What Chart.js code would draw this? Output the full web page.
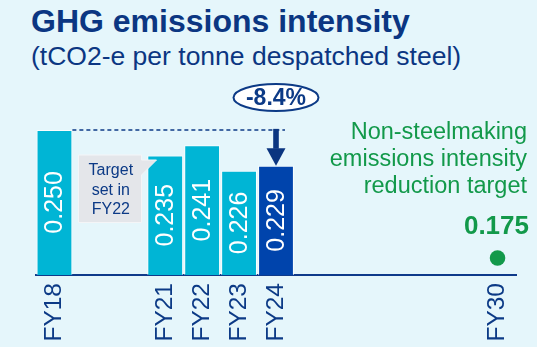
<!DOCTYPE html>
<html>
<head>
<meta charset="utf-8">
<title>GHG emissions intensity</title>
<script src="https://cdn.jsdelivr.net/npm/chart.js"></script>
<style>
  html, body { margin: 0; padding: 0; background: #fff; }
  #wrap { position: relative; width: 554px; height: 347px; overflow: hidden; }
  #bg { position: absolute; left: 0; top: 0; width: 537px; height: 347px; background: #e5f6fb; }
  .t { position: absolute; left: 31px; white-space: nowrap; color: #0b3682;
       font-family: "Liberation Sans", Arial, sans-serif; line-height: 1; }
  #title { top: 5px; font-size: 32px; font-weight: bold; }
  #sub { top: 43px; font-size: 26.5px; }
  #chart { position: absolute; left: 0; top: 0; }
</style>
</head>
<body>
<div id="wrap">
  <div id="bg"></div>
  <div class="t" id="title">GHG emissions intensity</div>
  <div class="t" id="sub">(tCO2-e per tonne despatched steel)</div>
  <canvas id="chart" width="554" height="347"></canvas>
</div>
<script>
// data
const years = ['FY18','FY19','FY20','FY21','FY22','FY23','FY24','FY25','FY26','FY27','FY28','FY29','FY30'];
const tickLabels = ['FY18','','','FY21','FY22','FY23','FY24','','','','','','FY30'];
const intensity = [0.250, null, null, 0.235, 0.241, 0.226, 0.229, null, null, null, null, null, null];
const target = [null, null, null, null, null, null, null, null, null, null, null, null, 0.175];
const changeLabel = '-8.4%';
const noteLines = ['Target', 'set in', 'FY22'];
const targetLines = ['Non-steelmaking', 'emissions intensity', 'reduction target'];
const targetValue = '0.175';

const NAVY = '#0c3a86';
const CYAN = '#00b5d5';
const DARK = '#0044ac';
const GREEN = '#12994a';
const FONT = '"Liberation Sans", Arial, sans-serif';

const annotations = {
  id: 'annotations',
  afterDatasetsDraw(chart) {
    const ctx = chart.ctx;
    const x = chart.scales.x, y = chart.scales.y;
    const bottom = chart.chartArea.bottom;
    const bars = chart.getDatasetMeta(0).data;

    // values inside bars
    ctx.save();
    ctx.fillStyle = '#fff';
    ctx.font = '25px ' + FONT;
    ctx.textAlign = 'center';
    ctx.textBaseline = 'middle';
    intensity.forEach((v, i) => {
      if (v === null) return;
      const b = bars[i];
      ctx.save();
      ctx.translate(b.x + 1, (b.y + bottom) / 2);
      ctx.rotate(-Math.PI / 2);
      ctx.fillText(v.toFixed(3), 0, 0);
      ctx.restore();
    });
    ctx.restore();

    // dashed reference from FY18 level
    const yStart = y.getPixelForValue(intensity[0]);
    const yEnd = y.getPixelForValue(intensity[6]);
    const xEnd = x.getPixelForValue(6);
    ctx.save();
    ctx.strokeStyle = NAVY;
    ctx.lineWidth = 1.5;
    ctx.setLineDash([4, 3]);
    ctx.beginPath();
    ctx.moveTo(bars[0].x + bars[0].width / 2, yStart);
    ctx.lineTo(xEnd + 9, yStart);
    ctx.stroke();
    ctx.restore();

    // arrow down to FY24
    ctx.save();
    ctx.fillStyle = '#0a3580';
    ctx.fillRect(xEnd - 2.8, yStart - 1, 5.6, (yEnd - 17) - (yStart - 1));
    ctx.beginPath();
    ctx.moveTo(xEnd - 9.5, yEnd - 17.5);
    ctx.lineTo(xEnd + 9.5, yEnd - 17.5);
    ctx.lineTo(xEnd, yEnd);
    ctx.closePath();
    ctx.fill();
    ctx.restore();

    // change bubble
    ctx.save();
    ctx.fillStyle = '#fff';
    ctx.strokeStyle = NAVY;
    ctx.lineWidth = 2;
    ctx.beginPath();
    ctx.ellipse(xEnd, 97.5, 42.5, 13.5, 0, 0, Math.PI * 2);
    ctx.fill();
    ctx.stroke();
    ctx.fillStyle = NAVY;
    ctx.font = 'bold 23px ' + FONT;
    ctx.textAlign = 'center';
    ctx.textBaseline = 'middle';
    ctx.fillText(changeLabel, xEnd, 99);
    ctx.restore();

    // callout "Target set in FY22"
    const cx = (x.getPixelForValue(1) + x.getPixelForValue(2)) / 2;
    ctx.save();
    ctx.fillStyle = '#e4e6ea';
    ctx.strokeStyle = '#f4f5f7';
    ctx.lineWidth = 1;
    ctx.beginPath();
    ctx.moveTo(78.5, 155);
    ctx.lineTo(141.5, 155);
    ctx.lineTo(141.5, 160);
    ctx.lineTo(156.5, 160);
    ctx.lineTo(141.5, 175);
    ctx.lineTo(141.5, 222.5);
    ctx.lineTo(78.5, 222.5);
    ctx.closePath();
    ctx.fill();
    ctx.stroke();
    ctx.fillStyle = NAVY;
    ctx.font = '16px ' + FONT;
    ctx.textAlign = 'center';
    ctx.textBaseline = 'alphabetic';
    noteLines.forEach((s, i) => ctx.fillText(s, cx + 1, 175 + i * 19.5));
    ctx.restore();

    // target text
    ctx.save();
    ctx.fillStyle = GREEN;
    ctx.textAlign = 'right';
    ctx.textBaseline = 'alphabetic';
    ctx.font = '23.5px ' + FONT;
    targetLines.forEach((s, i) => ctx.fillText(s, 527, 138.5 + i * 27.3));
    ctx.font = 'bold 26px ' + FONT;
    ctx.fillText(targetValue, 529, 233.5);
    ctx.restore();
  }
};

new Chart(document.getElementById('chart'), {
  type: 'bar',
  data: {
    labels: years,
    datasets: [
      {
        type: 'bar',
        data: intensity,
        backgroundColor: c => c.dataIndex === 6 ? DARK : CYAN,
        borderColor: 'rgba(255,255,255,0.75)',
        borderWidth: 1,
        borderSkipped: 'start',
        categoryPercentage: 1,
        barPercentage: 0.97,
        order: 2
      },
      {
        type: 'line',
        data: target,
        showLine: false,
        pointRadius: 7.8,
        pointBackgroundColor: GREEN,
        pointBorderWidth: 0,
        order: 1
      }
    ]
  },
  options: {
    responsive: false,
    animation: false,
    layout: { padding: { left: 36, right: 38, top: 100, bottom: 0 } },
    plugins: { legend: { display: false }, tooltip: { enabled: false } },
    scales: {
      x: {
        grid: { display: false, drawTicks: false },
        border: { display: true, color: '#0f3a8a', width: 2 },
        ticks: {
          autoSkip: false,
          minRotation: 90,
          maxRotation: 90,
          padding: 8,
          color: NAVY,
          font: { family: FONT, size: 24.5 },
          callback: (v, i) => tickLabels[i]
        },
        afterFit: s => { s.height = 72; }
      },
      y: {
        display: false,
        min: 0.165,
        max: 0.2675
      }
    }
  },
  plugins: [annotations]
});
</script>
</body>
</html>
